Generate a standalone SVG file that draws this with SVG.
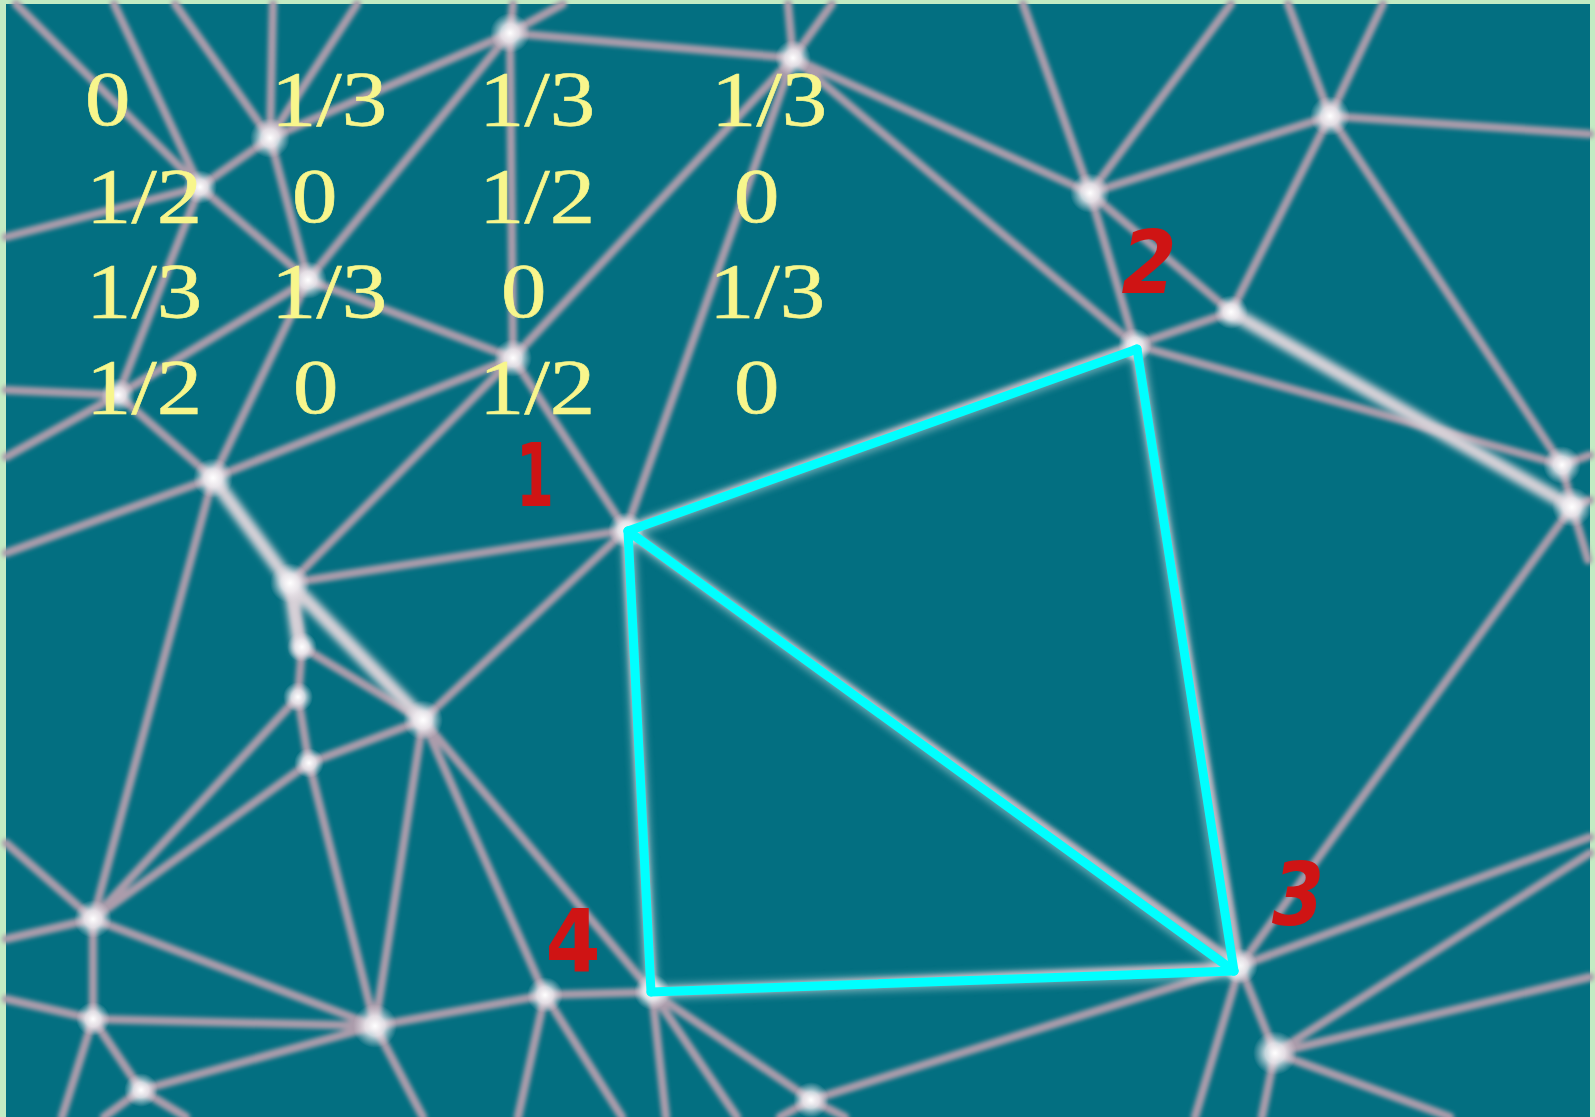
<svg xmlns="http://www.w3.org/2000/svg" width="1595" height="1117" viewBox="0 0 1595 1117">
<defs>
<filter id="soft" x="-5%" y="-5%" width="110%" height="110%"><feGaussianBlur stdDeviation="2.2"/></filter>
<filter id="softer" x="-20%" y="-20%" width="140%" height="140%"><feGaussianBlur stdDeviation="3.5"/></filter>
<radialGradient id="glow"><stop offset="0" stop-color="#ffffff" stop-opacity="1"/><stop offset="0.45" stop-color="#f2eef2" stop-opacity="0.8"/><stop offset="1" stop-color="#e0d8e0" stop-opacity="0"/></radialGradient>
<style>
.net line{stroke:#ab9cab;stroke-width:8.5;stroke-linecap:round}
.thick line{stroke:#d8d2d8;stroke-width:14;stroke-linecap:round}
.mat{font-family:"Liberation Serif","Times New Roman",serif;font-size:79px;fill:#f8f68c;stroke:#f8f68c;stroke-width:0.6}
.lab{font-family:"DejaVu Sans",sans-serif;font-weight:bold;font-size:88px;fill:#cf1414;text-anchor:middle}
.cy line{stroke:#00ffff;stroke-width:9;stroke-linecap:round}
.halo line{stroke:#e8f0f0;stroke-width:16;stroke-linecap:round;opacity:0.4}
</style>
</defs>
<rect x="0" y="0" width="1595" height="1117" fill="#c3ebc3"/>
<rect x="6" y="4" width="1584" height="1113" fill="#036f81"/>
<g id="network" class="net" filter="url(#soft)">
<line x1="16" y1="4" x2="200" y2="187"/>
<line x1="114" y1="4" x2="200" y2="187"/>
<line x1="175" y1="4" x2="270" y2="138"/>
<line x1="273" y1="4" x2="270" y2="138"/>
<line x1="357" y1="4" x2="270" y2="138"/>
<line x1="6" y1="237" x2="200" y2="187"/>
<line x1="270" y1="138" x2="200" y2="187"/>
<line x1="270" y1="138" x2="510" y2="33"/>
<line x1="270" y1="138" x2="308" y2="280"/>
<line x1="200" y1="187" x2="308" y2="280"/>
<line x1="200" y1="187" x2="118" y2="395"/>
<line x1="308" y1="280" x2="510" y2="33"/>
<line x1="308" y1="280" x2="513" y2="358"/>
<line x1="308" y1="280" x2="118" y2="395"/>
<line x1="308" y1="280" x2="213" y2="478"/>
<line x1="510" y1="33" x2="513" y2="4"/>
<line x1="510" y1="33" x2="563" y2="4"/>
<line x1="510" y1="33" x2="513" y2="358"/>
<line x1="510" y1="33" x2="793" y2="58"/>
<line x1="793" y1="58" x2="788" y2="4"/>
<line x1="793" y1="58" x2="832" y2="4"/>
<line x1="793" y1="58" x2="513" y2="358"/>
<line x1="793" y1="58" x2="626" y2="530"/>
<line x1="793" y1="58" x2="1090" y2="193"/>
<line x1="793" y1="58" x2="1135" y2="345"/>
<line x1="6" y1="390" x2="118" y2="395"/>
<line x1="6" y1="457" x2="118" y2="395"/>
<line x1="118" y1="395" x2="213" y2="478"/>
<line x1="6" y1="553" x2="213" y2="478"/>
<line x1="213" y1="478" x2="513" y2="358"/>
<line x1="213" y1="478" x2="93" y2="919"/>
<line x1="290" y1="583" x2="513" y2="358"/>
<line x1="513" y1="358" x2="626" y2="530"/>
<line x1="290" y1="583" x2="626" y2="530"/>
<line x1="290" y1="583" x2="302" y2="647"/>
<line x1="302" y1="647" x2="298" y2="697"/>
<line x1="298" y1="697" x2="309" y2="763"/>
<line x1="302" y1="647" x2="423" y2="720"/>
<line x1="309" y1="763" x2="423" y2="720"/>
<line x1="423" y1="720" x2="626" y2="530"/>
<line x1="423" y1="720" x2="652" y2="992"/>
<line x1="423" y1="720" x2="375" y2="1026"/>
<line x1="423" y1="720" x2="545" y2="995"/>
<line x1="93" y1="919" x2="298" y2="697"/>
<line x1="93" y1="919" x2="309" y2="763"/>
<line x1="309" y1="763" x2="375" y2="1026"/>
<line x1="6" y1="843" x2="93" y2="919"/>
<line x1="6" y1="939" x2="93" y2="919"/>
<line x1="93" y1="919" x2="93" y2="1019"/>
<line x1="93" y1="919" x2="375" y2="1026"/>
<line x1="6" y1="999" x2="93" y2="1019"/>
<line x1="93" y1="1019" x2="375" y2="1026"/>
<line x1="93" y1="1019" x2="141" y2="1090"/>
<line x1="93" y1="1019" x2="62" y2="1117"/>
<line x1="141" y1="1090" x2="375" y2="1026"/>
<line x1="141" y1="1090" x2="104" y2="1117"/>
<line x1="141" y1="1090" x2="186" y2="1117"/>
<line x1="375" y1="1026" x2="545" y2="995"/>
<line x1="375" y1="1026" x2="423" y2="1117"/>
<line x1="545" y1="995" x2="652" y2="992"/>
<line x1="545" y1="995" x2="518" y2="1117"/>
<line x1="545" y1="995" x2="622" y2="1117"/>
<line x1="652" y1="992" x2="666" y2="1117"/>
<line x1="652" y1="992" x2="737" y2="1117"/>
<line x1="652" y1="992" x2="811" y2="1100"/>
<line x1="811" y1="1100" x2="1240" y2="966"/>
<line x1="811" y1="1100" x2="780" y2="1117"/>
<line x1="811" y1="1100" x2="845" y2="1117"/>
<line x1="1090" y1="193" x2="1023" y2="4"/>
<line x1="1090" y1="193" x2="1231" y2="4"/>
<line x1="1090" y1="193" x2="1330" y2="116"/>
<line x1="1090" y1="193" x2="1135" y2="345"/>
<line x1="1090" y1="193" x2="1231" y2="312"/>
<line x1="1330" y1="116" x2="1288" y2="4"/>
<line x1="1330" y1="116" x2="1383" y2="4"/>
<line x1="1330" y1="116" x2="1590" y2="134"/>
<line x1="1330" y1="116" x2="1231" y2="312"/>
<line x1="1330" y1="116" x2="1562" y2="465"/>
<line x1="1231" y1="312" x2="1135" y2="345"/>
<line x1="1135" y1="345" x2="1562" y2="465"/>
<line x1="1562" y1="465" x2="1590" y2="455"/>
<line x1="1562" y1="465" x2="1572" y2="507"/>
<line x1="1572" y1="507" x2="1590" y2="500"/>
<line x1="1572" y1="507" x2="1588" y2="560"/>
<line x1="1572" y1="507" x2="1240" y2="966"/>
<line x1="1240" y1="966" x2="1590" y2="837"/>
<line x1="1240" y1="966" x2="1275" y2="1053"/>
<line x1="1240" y1="966" x2="1195" y2="1117"/>
<line x1="1275" y1="1053" x2="1590" y2="853"/>
<line x1="1275" y1="1053" x2="1590" y2="977"/>
<line x1="1275" y1="1053" x2="1450" y2="1117"/>
<line x1="1275" y1="1053" x2="1262" y2="1117"/>
<line x1="626" y1="530" x2="1135" y2="345"/>
<line x1="1135" y1="345" x2="1240" y2="966"/>
<line x1="1240" y1="966" x2="652" y2="992"/>
<line x1="652" y1="992" x2="626" y2="530"/>
<line x1="626" y1="530" x2="1240" y2="966"/>
</g>
<g id="streaks" class="thick" filter="url(#softer)">
<line x1="213" y1="478" x2="290" y2="583"/>
<line x1="290" y1="583" x2="423" y2="720"/>
<line x1="290" y1="583" x2="300" y2="650"/>
<line x1="1231" y1="312" x2="1572" y2="507"/>
</g>
<g id="nodes">
<circle cx="510" cy="33" r="20" fill="url(#glow)"/>
<circle cx="270" cy="138" r="20" fill="url(#glow)"/>
<circle cx="200" cy="187" r="17" fill="url(#glow)"/>
<circle cx="308" cy="280" r="19" fill="url(#glow)"/>
<circle cx="513" cy="358" r="19" fill="url(#glow)"/>
<circle cx="793" cy="58" r="18" fill="url(#glow)"/>
<circle cx="1090" cy="193" r="20" fill="url(#glow)"/>
<circle cx="1330" cy="116" r="20" fill="url(#glow)"/>
<circle cx="1231" cy="312" r="17" fill="url(#glow)"/>
<circle cx="1135" cy="345" r="17" fill="url(#glow)"/>
<circle cx="1562" cy="465" r="19" fill="url(#glow)"/>
<circle cx="1572" cy="507" r="20" fill="url(#glow)"/>
<circle cx="626" cy="530" r="18" fill="url(#glow)"/>
<circle cx="118" cy="395" r="17" fill="url(#glow)"/>
<circle cx="213" cy="478" r="20" fill="url(#glow)"/>
<circle cx="290" cy="583" r="20" fill="url(#glow)"/>
<circle cx="302" cy="647" r="15" fill="url(#glow)"/>
<circle cx="298" cy="697" r="15" fill="url(#glow)"/>
<circle cx="423" cy="720" r="20" fill="url(#glow)"/>
<circle cx="309" cy="763" r="15" fill="url(#glow)"/>
<circle cx="93" cy="919" r="19" fill="url(#glow)"/>
<circle cx="93" cy="1019" r="17" fill="url(#glow)"/>
<circle cx="375" cy="1026" r="22" fill="url(#glow)"/>
<circle cx="545" cy="995" r="18" fill="url(#glow)"/>
<circle cx="141" cy="1090" r="17" fill="url(#glow)"/>
<circle cx="652" cy="992" r="18" fill="url(#glow)"/>
<circle cx="811" cy="1100" r="18" fill="url(#glow)"/>
<circle cx="1240" cy="966" r="18" fill="url(#glow)"/>
<circle cx="1275" cy="1053" r="22" fill="url(#glow)"/>
</g>
<g id="quad">
<g class="halo" filter="url(#softer)">
<line x1="628" y1="531" x2="1137" y2="349"/>
<line x1="1137" y1="349" x2="1234" y2="971"/>
<line x1="1234" y1="971" x2="651" y2="992"/>
<line x1="651" y1="992" x2="628" y2="531"/>
<line x1="628" y1="531" x2="1234" y2="971"/>
</g>
<g class="cy">
<line x1="628" y1="531" x2="1137" y2="349"/>
<line x1="1137" y1="349" x2="1234" y2="971"/>
<line x1="1234" y1="971" x2="651" y2="992"/>
<line x1="651" y1="992" x2="628" y2="531"/>
<line x1="628" y1="531" x2="1234" y2="971"/>
</g>
</g>
<g id="matrix" class="mat">
<text transform="translate(85 125) scale(1.15 1)">0</text>
<text transform="translate(271 125) scale(1.15 1)">1/3</text>
<text transform="translate(479 125) scale(1.15 1)">1/3</text>
<text transform="translate(711 125) scale(1.15 1)">1/3</text>
<text transform="translate(86 222) scale(1.15 1)">1/2</text>
<text transform="translate(292 222) scale(1.15 1)">0</text>
<text transform="translate(479 222) scale(1.15 1)">1/2</text>
<text transform="translate(734 222) scale(1.15 1)">0</text>
<text transform="translate(86 317) scale(1.15 1)">1/3</text>
<text transform="translate(271 317) scale(1.15 1)">1/3</text>
<text transform="translate(501 317) scale(1.15 1)">0</text>
<text transform="translate(709 317) scale(1.15 1)">1/3</text>
<text transform="translate(86 413) scale(1.15 1)">1/2</text>
<text transform="translate(293 413) scale(1.15 1)">0</text>
<text transform="translate(479 413) scale(1.15 1)">1/2</text>
<text transform="translate(734 413) scale(1.15 1)">0</text>
</g>
<g id="labels" class="lab">
<text transform="translate(535 506) scale(0.62 1)">1</text>
<text transform="translate(1149 293) scale(0.9 1)" font-style="italic">2</text>
<text transform="translate(1298 925) scale(0.85 1)" font-style="italic">3</text>
<text transform="translate(573 972) scale(0.9 1)">4</text>
</g>
</svg>
